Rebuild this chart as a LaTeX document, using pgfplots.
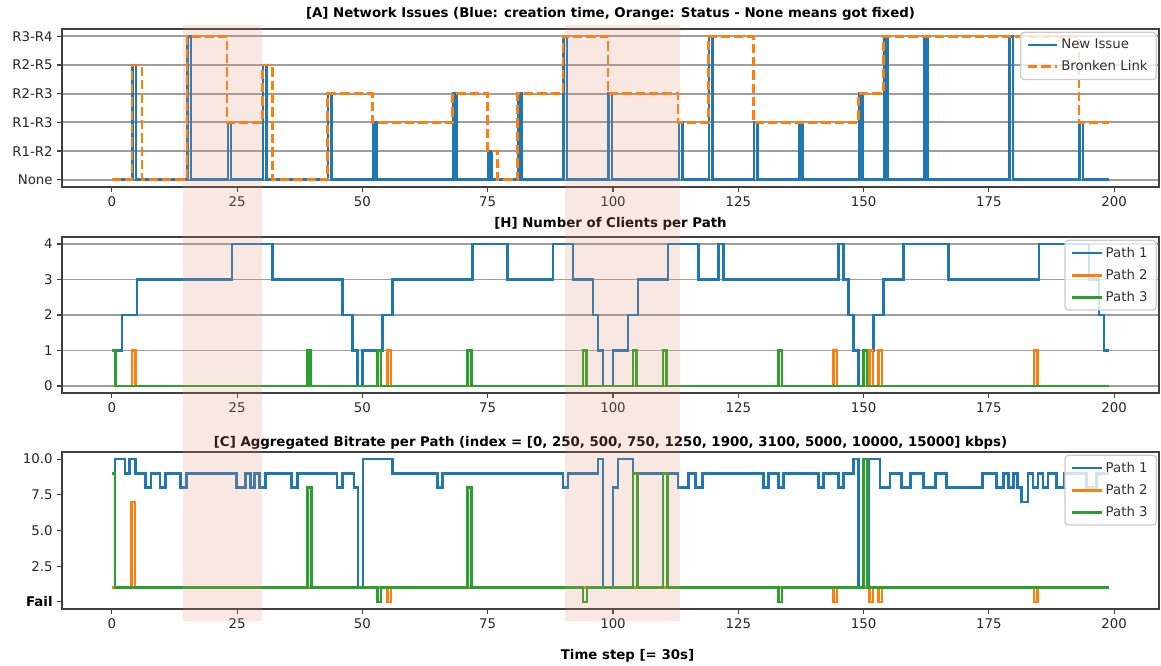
\documentclass[border=0pt]{standalone}
\usepackage{fontspec}
\setmainfont{DejaVu Sans}
\usepackage{pgfplots}
\pgfplotsset{compat=1.18}

\definecolor{tabblue}{HTML}{1F77B4}
\definecolor{taborange}{HTML}{FF7F0E}
\definecolor{tabgreen}{HTML}{2CA02C}
\definecolor{bandcol}{RGB}{226,140,110}
\newcommand{\legtxt}[1]{\textcolor{black!80}{#1}}

\pgfplotsset{
  myaxis/.style={
    scale only axis, width=822.75pt,
    xmin=-9.95, xmax=208.95,
    xtick={0,25,...,200}, xticklabels={0,25,50,75,100,125,150,175,200},
    tick pos=left, tick align=outside, major tick length=3.5pt,
    tick style={black!75, line width=0.9pt},
    axis line style={black!75, line width=1.2pt},
    ticklabel style={font=\fontsize{10}{12}\selectfont, text=black!85},
    title style={font=\bfseries\fontsize{10}{12}\selectfont},
    grid style={black!38, line width=1.4pt},
    legend style={at={(1,1)}, anchor=north east, xshift=-1.5pt, yshift=-2pt,
      font=\fontsize{10}{12}\selectfont, draw=black!20, line width=1pt,
      rounded corners=2.5pt, fill=white, fill opacity=0.8, text opacity=1,
      inner xsep=4.5pt, inner ysep=3pt, row sep=3.5pt},
    legend cell align=left,
    legend image code/.code={\draw[##1, line width=2pt] (0pt,0pt) -- (22pt,0pt);},
  },
  pl/.style={line width=2pt, const plot},
}

\begin{document}
\begin{tikzpicture}
\useasboundingbox (0,0) rectangle (870.75pt,-499.5pt);

% ---------------- [A] ----------------
\begin{axis}[myaxis, at={(46.5pt,-21.75pt)}, anchor=north west, height=118.5pt,
  ymin=-0.25, ymax=5.25, ytick={0,1,2,3,4,5},
  yticklabels={None,R1-R2,R1-R3,R2-R3,R2-R5,R3-R4}, ymajorgrids,
  title={[A] Network Issues (Blue: creation time, Orange: Status - None means got fixed)},
  title style={yshift=-3.25pt}]
\addplot[tabblue, pl] coordinates {
(0,0) (4.15,4)(4.8,0) (15.15,5)(15.8,0) (23.15,2)(23.8,0) (30.15,4)(30.8,0)
(43.15,3)(43.8,0) (52.15,2)(52.8,0) (68.15,3)(68.8,0) (75.15,1)(75.8,0)
(81.15,3)(81.8,0) (90.15,5)(90.8,0) (99.15,3)(99.8,0) (113.15,2)(113.8,0)
(119.15,5)(119.8,0) (128.15,2)(128.8,0) (137.15,2)(137.8,0) (149.15,3)(149.8,0)
(154.15,5)(154.8,0) (162.15,5)(162.8,0) (179.15,5)(179.8,0) (193.15,2)(193.8,0)
(199,0)};
\addlegendentry{\legtxt{New Issue}}
\addplot[taborange, pl, dash pattern=on 7pt off 3pt] coordinates {
(0,0) (4,4) (6,0) (15,5) (23,2) (30,4) (32,0) (43,3) (52,2) (68,3) (75,1) (77,0)
(81,3) (90,5) (99,3) (113,2) (119,5) (128,2) (149,3) (154,5) (193,2) (199,2)};
\addlegendentry{\legtxt{Bronken Link}}
\coordinate (A1) at (axis cs:14.2,5.25);
\coordinate (A2) at (axis cs:90.4,5.25);
\end{axis}

% ---------------- [H] ----------------
\begin{axis}[myaxis, at={(46.5pt,-177.75pt)}, anchor=north west, height=117pt,
  ymin=-0.2, ymax=4.2, ytick={0,1,2,3,4}, yticklabels={0,1,2,3,4}, ymajorgrids,
  title={[H] Number of Clients per Path}, title style={yshift=-4.7pt}]
\addplot[tabblue, pl] coordinates {
(0.65,1) (2,2) (5,3) (24,4) (32,3) (46,2) (48,1) (49,0) (50,1) (54,2) (56,3)
(72,4) (79,3) (88,4) (92,3) (96,2) (97,1) (98,0) (100,1) (103,2) (105,3)
(111,4) (117,3) (121,4) (122,3) (145,4) (146,3) (147,2) (148,1) (149,0)
(151,1) (152,2) (154,3) (158,4) (167,3) (185,4) (195,3) (197,2) (198,1) (199,1)};
\addlegendentry{\legtxt{Path 1}}
\addplot[taborange, pl] coordinates {
(0,0) (4,1)(4.7,0) (55,1)(55.7,0) (144,1)(144.7,0) (151.2,1)(151.9,0)
(153,1)(153.7,0) (184,1)(184.7,0) (199,0)};
\addlegendentry{\legtxt{Path 2}}
\addplot[tabgreen, pl] coordinates {
(0,1)(0.7,0) (39,1)(39.7,0) (53,1)(53.7,0) (71,1)(71.7,0) (94,1)(94.7,0)
(104,1)(104.7,0) (110,1)(110.7,0) (133,1)(133.7,0) (150,1)(150.7,0) (199,0)};
\addlegendentry{\legtxt{Path 3}}
\end{axis}

% ---------------- [C] ----------------
\begin{axis}[myaxis, at={(46.5pt,-339pt)}, anchor=north west, height=117.75pt,
  ymin=-0.5, ymax=10.5, ytick={0,2.5,5,7.5,10},
  yticklabels={\textbf{\color{black}Fail},2.5,5.0,7.5,10.0},
  title={[C] Aggregated Bitrate per Path (index = [0, 250, 500, 750, 1250, 1900, 3100, 5000, 10000, 15000] kbps)},
  title style={yshift=-7.75pt},
  xlabel={Time step [= 30s]},
  xlabel style={font=\bfseries\fontsize{10}{12}\selectfont, xshift=12.75pt, yshift=-9pt}]
\addplot[tabblue, pl] coordinates {
(0,1) (0.65,10) (2.65,9) (3.5,10) (4.65,9) (6.65,8) (7.8,9) (9.6,8) (10.7,9)
(13.7,8) (14.9,9) (24.9,8) (26.6,9) (27.6,8) (28.4,9) (29.4,8) (30.7,9)
(35.9,8) (37.1,9) (44.9,8) (46,9) (48.3,8) (49.1,1) (50.1,10) (56,9) (65,8)
(66,9) (90,8) (91,9) (97,10) (98,1) (100,8) (101,10) (104,9) (113,8) (115,9)
(116.5,8) (117.8,9) (130,8) (131,9) (133,8) (134,9) (141,8) (142,9) (145,8)
(146,9) (148,10) (149,1) (151,10) (153.3,8) (155.3,9) (157.6,8) (159.3,9)
(161.9,8) (164.4,9) (166.6,8) (173.7,9) (176.5,8) (177.9,9) (178.9,8)
(179.9,9) (180.7,8) (181.5,7) (182.8,9) (183.8,8) (184.8,9) (185.8,8)
(186.8,9) (188.5,8) (190,9) (194.5,8) (196.5,9) (199,9)};
\addlegendentry{\legtxt{Path 1}}
\addplot[taborange, pl] coordinates {
(0,1) (3.9,7)(4.6,1) (55,0)(55.7,1) (144,0)(144.7,1) (151.2,0)(151.9,1)
(153,0)(153.7,1) (184,0)(184.7,1) (199,1)};
\addlegendentry{\legtxt{Path 2}}
\addplot[tabgreen, pl] coordinates {
(0,9)(0.65,1) (39,8)(39.9,1) (53,0)(53.7,1) (71,8)(71.8,1) (94,0)(94.8,1)
(104,9)(104.9,1) (110,9)(110.9,1) (133,0)(133.7,1) (150,10)(150.8,1) (199,1)};
\addlegendentry{\legtxt{Path 3}}
\coordinate (B1) at (axis cs:30,-0.5);
\coordinate (B2) at (axis cs:113.4,-0.5);
\end{axis}

\fill[bandcol, fill opacity=0.2] ([yshift=3pt]A1) rectangle ([yshift=-9pt]B1);
\fill[bandcol, fill opacity=0.2] ([yshift=3pt]A2) rectangle ([yshift=-9pt]B2);
\end{tikzpicture}
\end{document}
